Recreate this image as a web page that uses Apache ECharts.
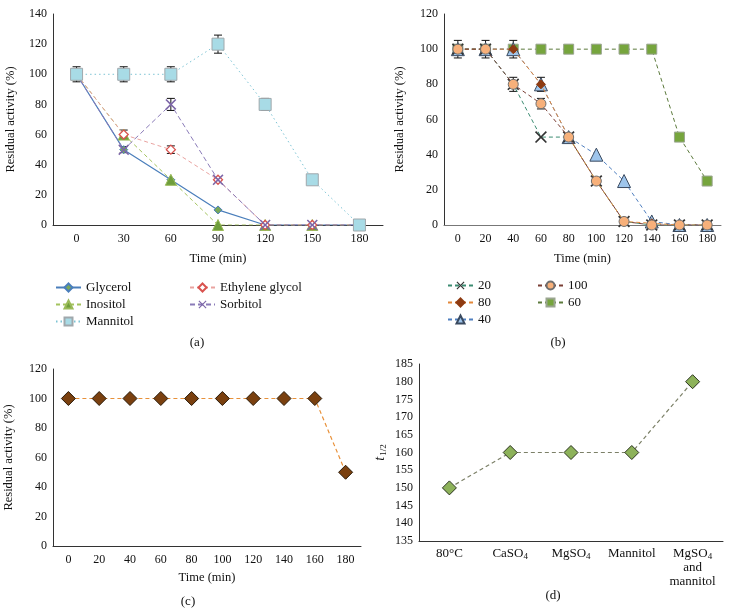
<!DOCTYPE html>
<html>
<head>
<meta charset="utf-8">
<script src="https://cdn.jsdelivr.net/npm/echarts@6/dist/echarts.min.js"></script>
<style>
  html, body { margin: 0; padding: 0; background: #fff; }
  #main { width: 731px; height: 615px; }
</style>
</head>
<body>
<div id="main"></div>
<script>
// panel (a) - additives
var timesA = ['0', '30', '60', '90', '120', '150', '180'];
var glycerol = [100, 50, 30, 10, 0, 0, 0];
var inositol = [100, 60, 30, 0, 0, 0, 0];
var mannitol = [100, 100, 100, 120, 80, 30, 0];
var ethyleneGlycol = [100, 60, 50, 30, 0, 0, 0];
var sorbitol = [100, 50, 80, 30, 0, 0, 0];
var mannitolErr = [5, 5, 5, 6, 4, 0, 0];
var sorbitolErr = [0, 2, 4, 0, 0, 0, 0];
var inositolErr = [0, 3, 0, 0, 0, 0, 0];
var ethyleneErr = [0, 0, 2.5, 0, 0, 0, 0];

// panel (b) - temperatures
var timesB = ['0', '20', '40', '60', '80', '100', '120', '140', '160', '180'];
var t20 = [100, 100, 80, 50, 50, 25, 2, 0, 0, 0];
var t80 = [100, 100, 100, 80, 50, 25, 2, 1, 0, 0];
var t40 = [100, 100, 100, 80, 50, 40, 25, 2, 0, 0];
var t100 = [100, 100, 80, 69, 50, 25, 2, 0, 0, 0];
var t60 = [100, 100, 100, 100, 100, 100, 100, 100, 50, 25];
var t100Err = [5, 5, 4, 3, 0, 0, 0, 0, 0, 0];
var t80Err = [0, 0, 5, 4, 0, 0, 0, 0, 0, 0];

// panel (c)
var timesC = ['0', '20', '40', '60', '80', '100', '120', '140', '160', '180'];
var residualC = [100, 100, 100, 100, 100, 100, 100, 100, 100, 50];

// panel (d)
var condD = ['80°C', 'CaSO4', 'MgSO4', 'Mannitol', 'MgSO4\nand\nmannitol'];
var halfLife = [150, 160, 160, 160, 180];

var FONT = 'Liberation Serif';
var XPATH = 'path://M0,1L1,0L5,4L9,0L10,1L6,5L10,9L9,10L5,6L1,10L0,9L4,5Z';

function errData(vals, errs) {
  var out = [];
  for (var i = 0; i < vals.length; i++) {
    if (errs[i] > 0) out.push([i, vals[i], errs[i]]);
  }
  return out;
}

function errSeries(data, gi) {
  return {
    type: 'custom',
    xAxisIndex: gi, yAxisIndex: gi,
    z: 1,
    silent: true,
    data: data,
    renderItem: function (params, api) {
      var x = api.value(0), v = api.value(1), e = api.value(2);
      var top = api.coord([x, v + e]);
      var bot = api.coord([x, v - e]);
      var w = 4;
      var st = { stroke: '#111', lineWidth: 1 };
      return {
        type: 'group',
        children: [
          { type: 'line', shape: { x1: top[0], y1: top[1], x2: bot[0], y2: bot[1] }, style: st },
          { type: 'line', shape: { x1: top[0] - w, y1: top[1], x2: top[0] + w, y2: top[1] }, style: st },
          { type: 'line', shape: { x1: bot[0] - w, y1: bot[1], x2: bot[0] + w, y2: bot[1] }, style: st }
        ]
      };
    }
  };
}

function lineSeries(name, data, gi, o) {
  return {
    name: name, type: 'line', data: data,
    xAxisIndex: gi, yAxisIndex: gi,
    symbol: o.symbol, symbolSize: o.size,
    z: o.z || 3,
    lineStyle: { color: o.line, width: o.lw || 1, type: o.dash || [4, 3] },
    itemStyle: { color: o.fill, borderColor: o.border || o.fill, borderWidth: o.bw === undefined ? 1 : o.bw },
    emphasis: { disabled: true },
    animation: false
  };
}

var labelStyle = { color: '#111', fontFamily: FONT, fontSize: 12 };
var nameStyle = { color: '#111', fontFamily: FONT, fontSize: 12.5 };
var legendText = { fontFamily: FONT, fontSize: 13, color: '#111' };

function catAxis(gi, data, extra) {
  return Object.assign({
    type: 'category', gridIndex: gi, data: data, boundaryGap: true,
    axisLine: { lineStyle: { color: '#333', width: 1 } },
    axisTick: { show: false },
    axisLabel: Object.assign({ margin: 8 }, labelStyle),
    splitLine: { show: false },
    nameLocation: 'middle', nameTextStyle: nameStyle
  }, extra || {});
}

function valAxis(gi, min, max, interval, extra) {
  return Object.assign({
    type: 'value', gridIndex: gi, min: min, max: max, interval: interval,
    axisLine: { show: true, lineStyle: { color: '#333', width: 1 } },
    axisTick: { show: false },
    axisLabel: Object.assign({ margin: 6 }, labelStyle),
    splitLine: { show: false },
    nameLocation: 'middle', nameTextStyle: nameStyle
  }, extra || {});
}

var chart = echarts.init(document.getElementById('main'), null, { renderer: 'canvas' });

var option = {
  backgroundColor: '#fff',
  animation: false,
  textStyle: { fontFamily: FONT },
  grid: [
    { left: 53, top: 14, width: 330, height: 211, containLabel: false, outerBoundsMode: 'none' },
    { left: 444, top: 14, width: 277, height: 211, containLabel: false, outerBoundsMode: 'none' },
    { left: 53, top: 369, width: 308, height: 177, containLabel: false, outerBoundsMode: 'none' },
    { left: 419, top: 364, width: 304, height: 177, containLabel: false, outerBoundsMode: 'none' }
  ],
  xAxis: [
    catAxis(0, timesA, { name: 'Time (min)', nameGap: 27 }),
    catAxis(1, timesB, { name: 'Time (min)', nameGap: 27, axisLine: { lineStyle: { color: '#777', width: 1 } } }),
    catAxis(2, timesC, { name: 'Time (min)', nameGap: 25 }),
    catAxis(3, condD, {
      axisLabel: {
        margin: 6, color: '#111', fontFamily: FONT, fontSize: 13, lineHeight: 14,
        interval: 0,
        formatter: function (v) { return v.replace(/O4/g, 'O{sub|4}'); },
        rich: { sub: { fontSize: 9, fontFamily: FONT, color: '#111', padding: [6, 0, 0, 0] } }
      }
    })
  ],
  yAxis: [
    valAxis(0, 0, 140, 20, { name: 'Residual activity (%)', nameGap: 36 }),
    valAxis(1, 0, 120, 20, { name: 'Residual activity (%)', nameGap: 38 }),
    valAxis(2, 0, 120, 20, { name: 'Residual activity (%)', nameGap: 38 }),
    valAxis(3, 135, 185, 5, {
      name: '{t|t}{s|1/2}', nameGap: 31,
      nameTextStyle: {
        color: '#111', fontFamily: FONT, fontSize: 13,
        rich: {
          t: { fontFamily: FONT, fontSize: 14, fontStyle: 'italic', color: '#111' },
          s: { fontFamily: FONT, fontSize: 9, color: '#111', padding: [6, 0, 0, 1] }
        }
      }
    })
  ],
  legend: [
    { data: ['Glycerol', 'Inositol', 'Mannitol'], orient: 'vertical', left: 50, top: 276,
      itemWidth: 25, itemHeight: 10, itemGap: 4, textStyle: legendText },
    { data: ['Ethylene glycol', 'Sorbitol'], orient: 'vertical', left: 184, top: 276,
      itemWidth: 25, itemHeight: 10, itemGap: 4, textStyle: legendText },
    { data: ['20', '80', '40'], orient: 'vertical', left: 442, top: 274,
      itemWidth: 25, itemHeight: 10, itemGap: 4, textStyle: legendText },
    { data: ['100', '60'], orient: 'vertical', left: 532, top: 274,
      itemWidth: 25, itemHeight: 10, itemGap: 4, textStyle: legendText }
  ],
  graphic: [
    { type: 'text', style: { text: '(a)', x: 197, y: 343, textAlign: 'center', textVerticalAlign: 'middle', verticalAlign: 'middle', font: '13px "Liberation Serif"', fill: '#111' } },
    { type: 'text', style: { text: '(b)', x: 558, y: 343, textAlign: 'center', textVerticalAlign: 'middle', verticalAlign: 'middle', font: '13px "Liberation Serif"', fill: '#111' } },
    { type: 'text', style: { text: '(c)', x: 188, y: 602, textAlign: 'center', textVerticalAlign: 'middle', verticalAlign: 'middle', font: '13px "Liberation Serif"', fill: '#111' } },
    { type: 'text', style: { text: '(d)', x: 553, y: 596, textAlign: 'center', textVerticalAlign: 'middle', verticalAlign: 'middle', font: '13px "Liberation Serif"', fill: '#111' } }
  ],
  series: [
    // (a) error bars
    errSeries(errData(mannitol, mannitolErr), 0),
    errSeries(errData(sorbitol, sorbitolErr), 0),
    errSeries(errData(inositol, inositolErr), 0),
    errSeries(errData(ethyleneGlycol, ethyleneErr), 0),
    lineSeries('Glycerol', glycerol, 0, { symbol: 'diamond', size: 8, fill: '#78a85a', border: '#4a7ebb', line: '#4a7ebb', dash: 'solid', lw: 1.2 }),
    lineSeries('Inositol', inositol, 0, { symbol: 'triangle', size: 11, fill: '#6f9e3c', border: '#9bbb59', line: '#a4c35e' }),
    lineSeries('Mannitol', mannitol, 0, { symbol: 'rect', size: 12, fill: '#a8dbe6', border: '#a0a8ac', line: '#7cc3d4', dash: [1.5, 3], z: 6 }),
    lineSeries('Ethylene glycol', ethyleneGlycol, 0, { symbol: 'diamond', size: 9, fill: '#fff', border: '#d9534f', line: '#e9a3a0', bw: 1.3 }),
    lineSeries('Sorbitol', sorbitol, 0, { symbol: XPATH, size: 11, fill: '#7d66a8', border: '#7d66a8', bw: 0, line: '#8a7bb8', dash: [5, 3], z: 4 }),

    // (b)
    errSeries(errData(t100, t100Err), 1),
    errSeries(errData(t80, t80Err), 1),
    lineSeries('60', t60, 1, { symbol: 'rect', size: 10, fill: '#76a53d', border: '#9aa590', line: '#5c7a3c', z: 2 }),
    lineSeries('40', t40, 1, { symbol: 'triangle', size: 13, fill: '#9ec5ec', border: '#3a4a60', line: '#4f7fbf', z: 3 }),
    lineSeries('20', t20, 1, { symbol: XPATH, size: 12, fill: '#333', border: '#333', bw: 0, line: '#3c8c72', z: 4 }),
    lineSeries('80', t80, 1, { symbol: 'diamond', size: 9, fill: '#8e3b12', border: '#8e3b12', line: '#e3883a', z: 5 }),
    lineSeries('100', t100, 1, { symbol: 'circle', size: 10, fill: '#f7b07a', border: '#6f6f6f', line: '#7a3e35', z: 6 }),

    // (c)
    lineSeries('c', residualC, 2, { symbol: 'diamond', size: 14, fill: '#7a400f', border: '#2a1a08', line: '#e8913a', lw: 1.2 }),

    // (d)
    lineSeries('d', halfLife, 3, { symbol: 'diamond', size: 14, fill: '#8db25a', border: '#2b3320', line: '#7c8068', lw: 1.2 })
  ]
};

chart.setOption(option);
</script>
</body>
</html>
